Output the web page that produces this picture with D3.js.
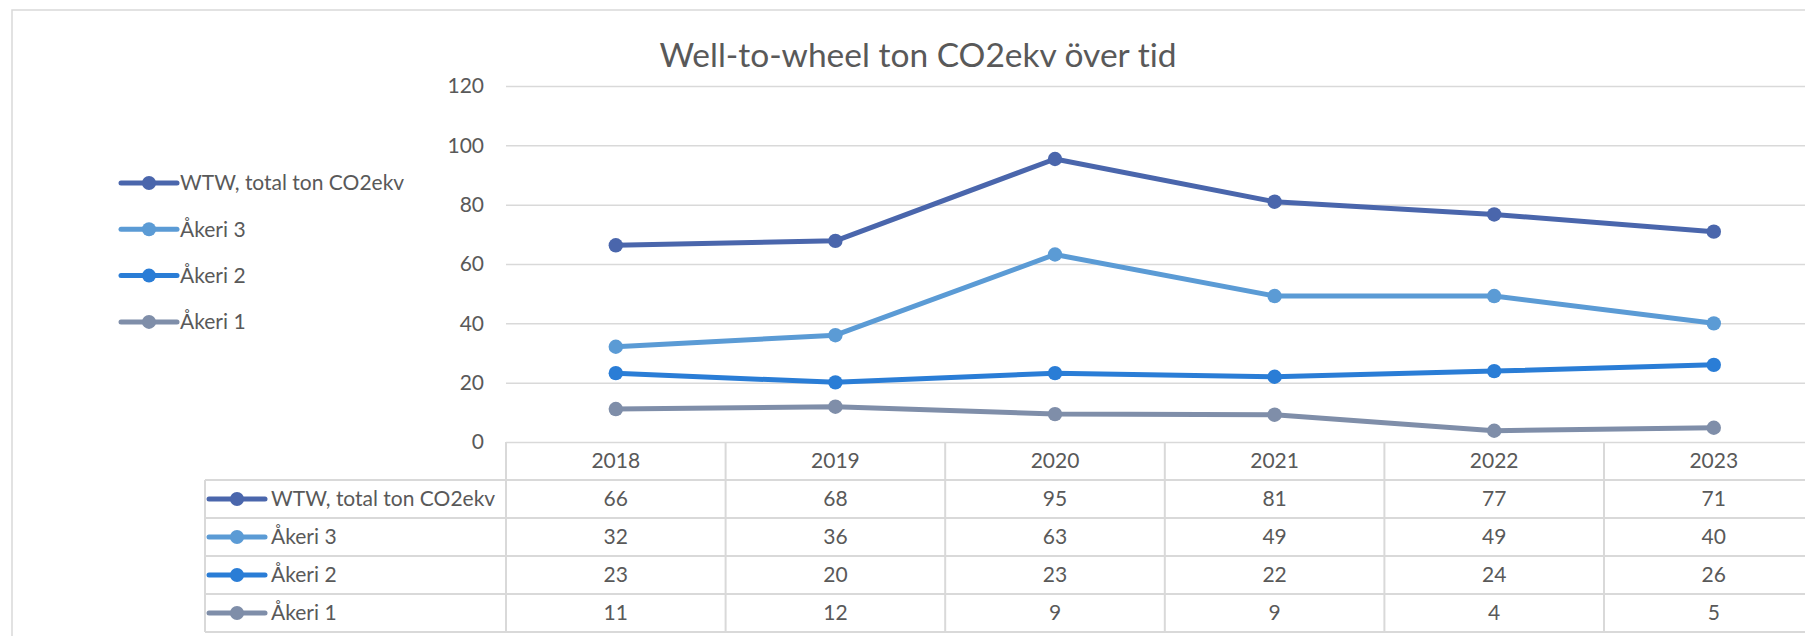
<!DOCTYPE html>
<html>
<head>
<meta charset="utf-8">
<script src="https://cdn.jsdelivr.net/npm/d3@7"></script>
<style>
  body { margin: 0; background: #fff; }
  svg { display: block; font-family: Lato, "Open Sans", sans-serif; font-variant-ligatures: none; }
</style>
</head>
<body>
<script>
// data (table shows them rounded)
const years = ["2018", "2019", "2020", "2021", "2022", "2023"];
const seriesNames = ["WTW, total ton CO2ekv", "Åkeri 3", "Åkeri 2", "Åkeri 1"];
const wtw = [66.3, 67.8, 95.4, 81.0, 76.7, 70.9];
const akeri3 = [32.1, 36.0, 63.2, 49.2, 49.2, 40.0];
const akeri2 = [23.2, 20.1, 23.2, 22.0, 23.9, 26.0];
const akeri1 = [11.1, 11.9, 9.4, 9.2, 3.8, 4.8];
const yTicks = [0, 20, 40, 60, 80, 100, 120];
const colors = ["#4a66ac", "#5b9bd5", "#2a7dd6", "#7f8ea9"];

const series = seriesNames.map((name, i) => ({
  name: name,
  values: [wtw, akeri3, akeri2, akeri1][i],
  color: colors[i]
}));

const W = 1805, H = 636;
const textCol = "#595959", gridCol = "#d9d9d9";
const plotLeft = 506, colW = 219.6;
const rowH = 38;

const svg = d3.select("body").append("svg")
  .attr("width", W).attr("height", H);

// chart frame
svg.append("rect")
  .attr("x", 12).attr("y", 10)
  .attr("width", W).attr("height", H)
  .attr("fill", "none").attr("stroke", gridCol).attr("stroke-width", 1.5);

const x = d3.scaleBand().domain(years).range([plotLeft, plotLeft + colW * years.length]);
const y = d3.scaleLinear().domain([0, 120]).range([442, 86]);

// title
svg.append("text")
  .attr("x", 918).attr("y", 67)
  .attr("text-anchor", "middle")
  .attr("fill", textCol)
  .style("font-size", "33.5px")
  .text("Well-to-wheel ton CO2ekv över tid");

// gridlines + y labels
const yAxis = d3.axisLeft(y).tickValues(yTicks)
  .tickSize(-(W - plotLeft)).tickPadding(22);
svg.append("g")
  .attr("transform", `translate(${plotLeft},0)`)
  .call(yAxis)
  .call(g => g.select(".domain").remove())
  .call(g => g.selectAll(".tick line").attr("stroke", gridCol).attr("stroke-width", 1.5))
  .call(g => g.selectAll(".tick text").attr("fill", textCol)
    .style("font-size", "21px").style("font-family", "Lato, sans-serif"));

// lines
const line = d3.line()
  .x((d, i) => x(years[i]) + x.bandwidth() / 2)
  .y(d => y(d));

const plot = svg.append("g");
series.forEach(s => {
  plot.append("path")
    .datum(s.values)
    .attr("fill", "none")
    .attr("stroke", s.color)
    .attr("stroke-width", 5)
    .attr("stroke-linejoin", "round")
    .attr("d", line);
  plot.selectAll(null)
    .data(s.values)
    .enter()
    .append("circle")
    .attr("cx", (d, i) => x(years[i]) + x.bandwidth() / 2)
    .attr("cy", d => y(d))
    .attr("r", 7.2)
    .attr("fill", s.color);
});

function legendKey(g, cx, cy, color) {
  g.append("line")
    .attr("x1", cx - 28).attr("x2", cx + 28)
    .attr("y1", cy).attr("y2", cy)
    .attr("stroke", color).attr("stroke-width", 5)
    .attr("stroke-linecap", "round");
  g.append("circle")
    .attr("cx", cx).attr("cy", cy).attr("r", 7)
    .attr("fill", color);
}

// legend on the left
const legend = svg.append("g");
series.forEach((s, i) => {
  const cy = 183 + i * 46.3;
  legendKey(legend, 149, cy, s.color);
  legend.append("text")
    .attr("x", 180).attr("y", cy)
    .attr("dy", "0.35em")
    .attr("fill", textCol)
    .style("font-size", "21px")
    .text(s.name);
});

// data table
const tableTop = y(0);
const tableLeft = 205;
const tableBottom = tableTop + rowH + series.length * rowH;
const tbl = svg.append("g");

// horizontal rules
tbl.append("line")
  .attr("x1", tableLeft).attr("x2", W)
  .attr("y1", tableTop + rowH).attr("y2", tableTop + rowH);
series.forEach((s, i) => {
  const yy = tableTop + rowH * (i + 2);
  tbl.append("line")
    .attr("x1", tableLeft).attr("x2", W)
    .attr("y1", yy).attr("y2", yy);
});
// vertical rules
tbl.append("line")
  .attr("x1", tableLeft).attr("x2", tableLeft)
  .attr("y1", tableTop + rowH).attr("y2", tableBottom);
years.forEach(yr => {
  tbl.append("line")
    .attr("x1", x(yr)).attr("x2", x(yr))
    .attr("y1", tableTop).attr("y2", tableBottom);
});
tbl.selectAll("line").attr("stroke", gridCol).attr("stroke-width", 2);

// header years
tbl.selectAll(".yr")
  .data(years)
  .enter()
  .append("text")
  .attr("x", d => x(d) + x.bandwidth() / 2)
  .attr("y", tableTop + rowH / 2)
  .attr("dy", "0.35em")
  .attr("text-anchor", "middle")
  .attr("fill", textCol)
  .style("font-size", "21px")
  .text(d => d);

// rows
const fmt = d3.format(".0f");
series.forEach((s, i) => {
  const cy = tableTop + rowH * (i + 1) + rowH / 2;
  legendKey(tbl, 237, cy, s.color);
  tbl.append("text")
    .attr("x", 271).attr("y", cy).attr("dy", "0.35em")
    .attr("fill", textCol)
    .style("font-size", "21px")
    .text(s.name);
  tbl.selectAll(null)
    .data(s.values)
    .enter()
    .append("text")
    .attr("x", (d, j) => x(years[j]) + x.bandwidth() / 2)
    .attr("y", cy).attr("dy", "0.35em")
    .attr("text-anchor", "middle")
    .attr("fill", textCol)
    .style("font-size", "21px")
    .text(d => fmt(d));
});
</script>
</body>
</html>
